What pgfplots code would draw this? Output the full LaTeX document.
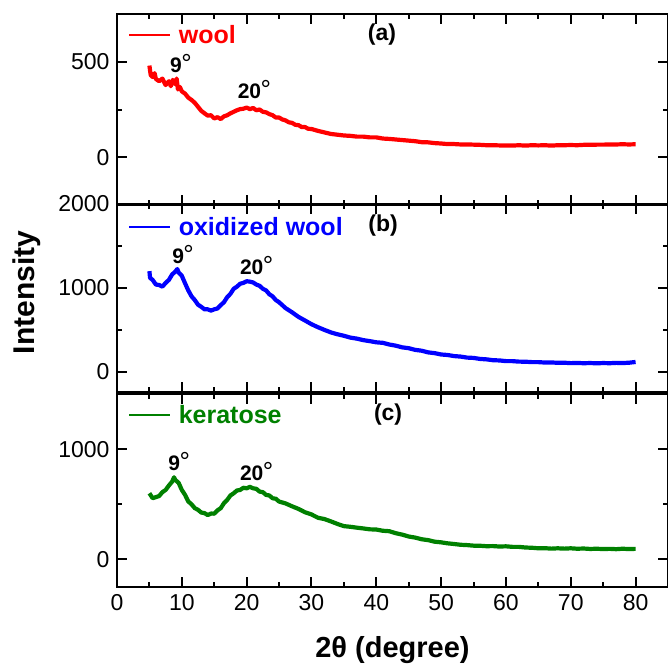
\documentclass[border=0pt]{standalone}
\usepackage{pgfplots}
\pgfplotsset{compat=1.18}
\usepackage{fontspec}
\setmainfont{Liberation Sans}
\definecolor{kgreen}{RGB}{0,128,0}
\newcommand{\dg}{\kern-0.5pt{\mdseries\fontsize{26}{26}\selectfont °}}
\pgfplotsset{
  panel/.style={
    scale only axis, width=551pt,
    xmin=0, xmax=85,
    xtick={0,10,...,80}, minor x tick num=1,
    tick align=inside,
    major tick length=10pt, minor tick length=5pt,
    every tick/.append style={black, line width=2pt},
    axis line style={line width=2.5pt},
    tick label style={font=\fontsize{23}{23}\selectfont},
    yticklabel style={xshift=-4pt},
    xticklabel style={yshift=-4pt},
    /pgf/number format/assume math mode=true,
    /pgf/number format/1000 sep={},
    legend style={draw=none, fill=none, anchor=west,
      font=\bfseries\fontsize{25}{25}\selectfont, inner xsep=0pt},
    legend cell align=left,
    legend image code/.code={\draw[#1, line width=1.6pt] (0pt,0pt) -- (41pt,0pt);},
  },
}
\tikzset{
  ann/.style={font=\bfseries\fontsize{21}{21}\selectfont, anchor=base west, inner sep=0pt},
  lab/.style={font=\bfseries\fontsize{23}{23}\selectfont},
  dat/.style={line width=4.2pt, line join=round},
}
\begin{document}
\begin{tikzpicture}
% (a) wool
\begin{axis}[panel, at={(0pt,382pt)}, anchor=south west, height=191pt,
  ymin=-250, ymax=750, ytick={0,500}, minor ytick={250},
  xticklabels={},
  legend style={at={(rel axis cs:0.02,0.89)}}]
\addplot[red, dat] coordinates {
(5.0,480) (5.2,430) (5.5,420) (5.8,440) (6.0,410) (6.5,398) (7.0,412) (7.5,378) (8.0,398)
(8.3,372) (8.6,405) (9.0,382) (9.2,412) (9.4,355) (9.7,368) (10.0,345) (10.5,333) (11.0,312)
(11.5,300) (12.0,285) (12.5,264) (13.0,243) (13.5,230) (14.0,218) (14.5,220) (15.0,203)
(15.5,210) (16.0,200) (16.5,214) (17.0,220) (17.5,230) (18.0,238) (18.5,246) (19.0,252)
(19.5,254) (20.0,260) (20.5,252) (21.0,258) (21.5,246) (22.0,250) (22.5,238) (23.0,235)
(23.5,226) (24.0,220) (24.5,208) (25.0,208) (25.5,198) (26.0,193) (26.5,183) (27.0,180)
(27.5,170) (28.0,168) (28.5,158) (29.0,158) (29.5,149) (30.0,148) (31,138) (32,130) (33,122)
(34,118) (35,114) (36,112) (37,108) (38,108) (39,104) (40,104) (41,98) (42,96) (43,93)
(44,90) (45,87) (46,84) (47,79) (48,78) (49,74) (50,72) (51,69) (52,69) (53,67) (54,67)
(55,66) (56,65) (57,63) (58,63) (59,62) (60,62) (61,61) (62,63) (63,61) (64,63) (65,62)
(66,63) (67,61) (68,63) (69,63) (70,64) (71,63) (72,65) (73,65) (74,66) (75,66) (76,67)
(77,67) (78,68) (79,67) (80,68)
};
\addlegendentry{\hspace{6pt}\textcolor{red}{wool}}
\node[lab] at (rel axis cs:0.481,0.89) {(a)};
\node[ann] at (axis cs:8.17,442) {9\dg};
\node[ann] at (axis cs:18.6,310) {20\dg};
\end{axis}
% (b) oxidized wool
\begin{axis}[panel, at={(0pt,195pt)}, anchor=south west, height=188pt,
  ymin=-240, ymax=2000, ytick={0,1000,2000}, minor ytick={500,1500},
  xticklabels={},
  ylabel={Intensity},
  ylabel style={at={(axis description cs:-0.163,0.53)}, anchor=center,
    font=\bfseries\fontsize{30}{30}\selectfont},
  legend style={at={(rel axis cs:0.02,0.878)}}]
\addplot[blue, dat] coordinates {
(5.0,1200) (5.1,1120) (5.5,1095) (6.0,1040) (6.5,1035) (7.0,1015) (7.5,1060) (8.0,1095)
(8.5,1160) (9.0,1195) (9.3,1225) (9.5,1185) (10.0,1145) (10.5,1055) (11.0,970) (11.5,900)
(12.0,855) (12.5,800) (13.0,775) (13.5,745) (14.0,745) (14.5,730) (15.0,745) (15.5,755)
(16.0,795) (16.5,830) (17.0,890) (17.5,930) (18.0,990) (18.5,1015) (19.0,1050) (19.5,1060)
(20.0,1080) (20.5,1075) (21.0,1065) (21.5,1040) (22.0,1025) (22.5,990) (23.0,970) (23.5,925)
(24.0,900) (24.5,855) (25.0,830) (26,760) (27,710) (28,655) (29,612) (30,568) (31,532)
(32,500) (33,470) (34,448) (35,430) (36,408) (37,396) (38,378) (39,366) (40,352) (41,346)
(42,326) (43,312) (44,292) (45,282) (46,262) (47,252) (48,232) (49,223) (50,207) (51,201)
(52,188) (53,182) (54,170) (55,166) (56,154) (57,149) (58,139) (59,136) (60,128) (61,128)
(62,122) (63,121) (64,116) (65,116) (66,111) (67,112) (68,108) (69,109) (70,104) (71,106)
(72,103) (73,105) (74,102) (75,105) (76,103) (77,107) (78,105) (79,109) (80,118)
};
\addlegendentry{\hspace{6pt}\textcolor{blue}{oxidized wool}}
\node[lab] at (rel axis cs:0.483,0.888) {(b)};
\node[ann] at (axis cs:8.5,1294) {9\dg};
\node[ann] at (axis cs:18.95,1165) {20\dg};
\end{axis}
% (c) keratose
\begin{axis}[panel, at={(0pt,0pt)}, anchor=south west, height=193pt,
  ymin=-250, ymax=1500, ytick={0,1000}, minor ytick={500},
  xlabel={2θ (degree)},
  xlabel style={at={(axis description cs:0.5,-0.326)}, anchor=center,
    font=\bfseries\fontsize{29}{29}\selectfont},
  legend style={at={(rel axis cs:0.02,0.891)}}]
\addplot[kgreen, dat] coordinates {
(5.0,600) (5.5,555) (6.0,565) (6.5,575) (7.0,610) (7.5,630) (8.0,670) (8.5,705) (8.8,745)
(9.0,720) (9.5,695) (10.0,630) (10.5,585) (11.0,525) (11.5,500) (12.0,465) (12.5,450)
(13.0,425) (13.5,420) (14.0,402) (14.5,416) (15.0,415) (15.5,445) (16.0,465) (16.5,510)
(17.0,540) (17.5,580) (18.0,600) (18.5,625) (19.0,630) (19.5,650) (20.0,645) (20.5,658)
(21.0,645) (21.5,640) (22.0,615) (22.5,610) (23.0,585) (23.5,580) (24.0,555) (24.5,550)
(25.0,525) (26,508) (27,482) (28,458) (29,428) (30,408) (31,378) (32,366) (33,345) (34,322)
(35,302) (36,296) (37,288) (38,281) (39,273) (40,271) (41,260) (42,256) (43,238) (44,225)
(45,208) (46,198) (47,183) (48,175) (49,161) (50,155) (51,146) (52,140) (53,133) (54,130)
(55,125) (56,124) (57,120) (58,121) (59,117) (60,119) (61,114) (62,114) (63,108) (64,106)
(65,101) (66,102) (67,98) (68,101) (69,98) (70,101) (71,97) (72,99) (73,95) (74,97)
(75,94) (76,96) (77,93) (78,97) (79,94) (80,96)
};
\addlegendentry{\hspace{6pt}\textcolor{kgreen}{keratose}}
\node[lab] at (rel axis cs:0.492,0.891) {(c)};
\node[ann] at (axis cs:7.9,809) {9\dg};
\node[ann] at (axis cs:18.95,718) {20\dg};
\end{axis}
\pgfresetboundingbox
\path[use as bounding box] (-117pt,-78pt) rectangle (551pt,587pt);
\end{tikzpicture}
\end{document}
